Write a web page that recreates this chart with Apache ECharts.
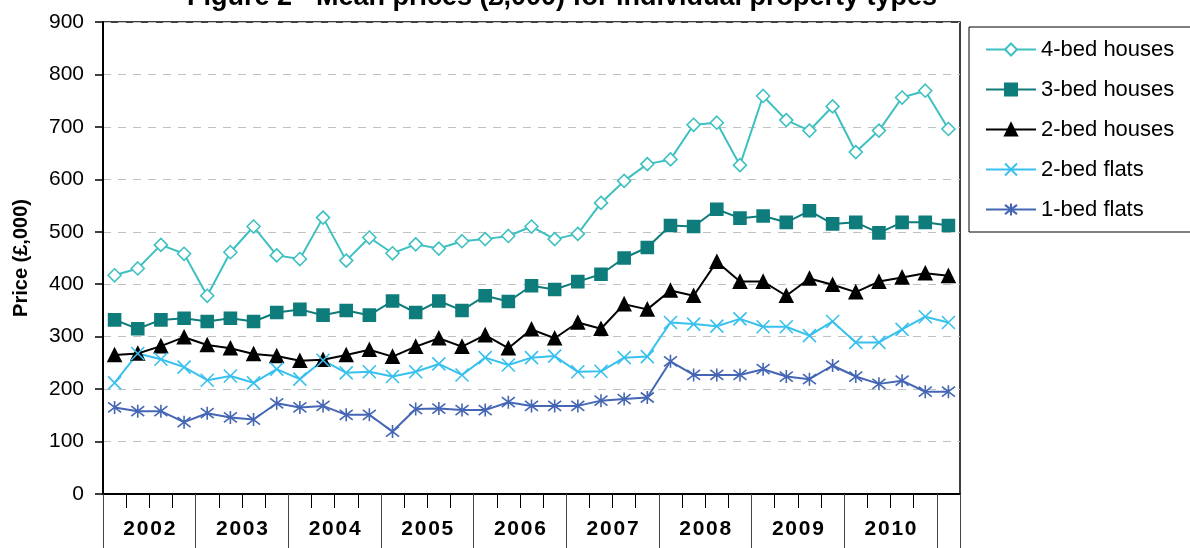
<!DOCTYPE html>
<html>
<head>
<meta charset="UTF-8">
<title>Figure 2 - Mean prices</title>
<script src="https://cdn.jsdelivr.net/npm/echarts@6/dist/echarts.min.js"></script>
<style>
  html, body { margin: 0; padding: 0; background: #fff; }
  #chart { width: 1190px; height: 548px; }
</style>
</head>
<body>
<div id="chart"></div>
<script>
// year labels under the axis, one quarter of 2011 at the end has no label
var years = ['2002', '2003', '2004', '2005', '2006', '2007', '2008', '2009', '2010'];
var quarters = [];
years.forEach(function (y) {
  ['Q1', 'Q2', 'Q3', 'Q4'].forEach(function (q) { quarters.push(y + ' ' + q); });
});
quarters.push('2011 Q1');

var bed4Houses = [417, 430, 475, 458, 378, 461, 510, 455, 448, 527, 445, 489, 459, 476, 468, 482, 486, 492, 510, 486,
  496, 555, 597, 629, 638, 704, 708, 627, 759, 713, 693, 739, 652, 693, 756, 769, 696];
var bed3Houses = [332, 315, 332, 335, 329, 335, 329, 346, 352, 341, 350, 341, 368, 346, 368, 350, 378, 367, 397, 390,
  405, 419, 450, 470, 512, 510, 543, 526, 530, 518, 540, 515, 518, 498, 518, 518, 512];
var bed2Houses = [265, 268, 282, 299, 284, 278, 267, 263, 254, 256, 265, 275, 262, 281, 297, 281, 303, 278, 314, 297,
  327, 315, 362, 352, 388, 378, 443, 405, 405, 378, 411, 399, 385, 405, 413, 421, 416];
var bed2Flats = [212, 268, 257, 242, 217, 225, 212, 238, 219, 255, 231, 233, 224, 233, 248, 227, 260, 246, 260, 263,
  233, 234, 260, 262, 327, 324, 320, 334, 319, 319, 302, 329, 289, 289, 314, 338, 327];
var bed1Flats = [165, 158, 158, 137, 154, 146, 142, 173, 165, 168, 151, 151, 119, 162, 163, 160, 160, 175, 168, 168,
  168, 178, 181, 184, 253, 227, 227, 227, 238, 224, 219, 245, 224, 210, 216, 195, 195];

// positions on the year axis (in quarters)
var yearLabelAt = years.map(function (y, i) { return i * 4 + 2; });
var yearDividers = years.map(function (y, i) { return i * 4; }).concat([36, 37]);

var crossPath = 'path://M0,0L10,10M10,0L0,10';
var starPath = 'path://M0,0L10,10M10,0L0,10M5,-1.5L5,11.5';

var font = 'Liberation Sans, Arial, sans-serif';

function lineSeries(name, data, color, symbol, size, fill) {
  return {
    name: name,
    type: 'line',
    data: data,
    xAxisIndex: 0,
    symbol: symbol,
    symbolSize: size,
    showAllSymbol: true,
    lineStyle: { color: color, width: 2 },
    itemStyle: { color: fill || color, borderColor: color, borderWidth: 1.6 },
    emphasis: { disabled: true },
    animation: false
  };
}

var myChart = echarts.init(document.getElementById('chart'));
myChart.setOption({
  animation: false,
  title: {
    text: 'Figure 2 - Mean prices (£,000) for individual property types',
    left: 557,
    textAlign: 'center',
    top: -21,
    textStyle: { fontFamily: font, fontWeight: 'bold', fontSize: 27, color: '#000' }
  },
  legend: {
    left: 969,
    top: 27,
    orient: 'vertical',
    itemWidth: 50,
    itemHeight: 15,
    itemGap: 17,
    padding: [11, 60, 11, 16],
    borderColor: '#000',
    borderWidth: 1,
    textStyle: { fontFamily: font, fontSize: 22, color: '#000', lineHeight: 23 },
    data: ['4-bed houses', '3-bed houses', '2-bed houses', '2-bed flats', '1-bed flats']
  },
  grid: { left: 103, right: 230, top: 22, bottom: 54, show: true, borderColor: '#000', borderWidth: 1.5 },
  xAxis: [{
    type: 'category',
    data: quarters,
    boundaryGap: true,
    axisLine: { lineStyle: { color: '#000', width: 2 } },
    axisTick: { show: true, interval: 0, length: 14, lineStyle: { color: '#000', width: 1 } },
    axisLabel: { show: false },
    splitLine: { show: false }
  }, {
    type: 'value',
    min: 0,
    max: 37,
    position: 'bottom',
    axisLine: { show: false },
    axisTick: { show: true, length: 60, customValues: yearDividers, lineStyle: { color: '#444', width: 1 } },
    axisLabel: {
      customValues: yearLabelAt,
      margin: 25,
      fontFamily: font,
      fontWeight: 'bold',
      fontSize: 21,
      color: '#000',
      formatter: function (v) { return years[(v - 2) / 4].split('').join('\u200a'); }
    },
    splitLine: { show: false }
  }],
  yAxis: {
    type: 'value',
    min: 0,
    max: 900,
    interval: 100,
    name: 'Price (£,000)',
    nameLocation: 'middle',
    nameGap: 72,
    nameTextStyle: { fontFamily: font, fontWeight: 'bold', fontSize: 20, color: '#000' },
    axisLine: { show: true, lineStyle: { color: '#000', width: 2 } },
    axisTick: { show: true, length: 8, lineStyle: { color: '#000', width: 1.5 } },
    axisLabel: { fontFamily: font, fontSize: 21, color: '#000', margin: 19 },
    splitLine: { show: true, lineStyle: { color: '#c0c0c0', type: [8, 7], width: 1 } }
  },
  series: [
    lineSeries('4-bed houses', bed4Houses, '#3fc0c0', 'diamond', 13, '#fff'),
    lineSeries('3-bed houses', bed3Houses, '#0e7c7b', 'rect', 12),
    lineSeries('2-bed houses', bed2Houses, '#000', 'triangle', 13),
    lineSeries('2-bed flats', bed2Flats, '#38c0ee', crossPath, 13),
    lineSeries('1-bed flats', bed1Flats, '#4466b4', starPath, 13)
  ]
});
</script>
</body>
</html>
